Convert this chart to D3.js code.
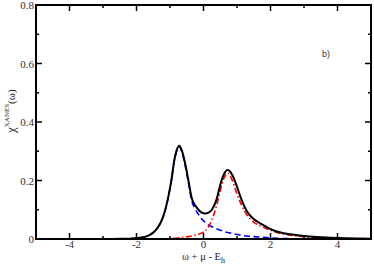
<!DOCTYPE html>
<html><head><meta charset="utf-8">
<script src="https://cdn.jsdelivr.net/npm/d3@7/dist/d3.min.js"></script>
<style>body{margin:0;background:#fff}svg{display:block}
text{font-family:"Liberation Serif","Times New Roman",serif}
text.sans{font-family:"Liberation Sans",Arial,sans-serif}</style>
</head><body>
<svg id="c" width="374" height="267"></svg>
<script>
const omega = [-5,-4,-3,-2.5,-2.2,-2,-1.8,-1.6,-1.5,-1.4,-1.27,-1.14,-1.04,-0.96,-0.87,-0.8,-0.72,-0.65,-0.57,-0.45,-0.35,-0.25,-0.15,-0.05,0.05,0.15,0.25,0.4,0.5,0.6,0.72,0.86,0.98,1.12,1.3,1.5,1.75,2.0,2.3,2.6,3.0,3.5,4.0,4.5,5.0];
const total = [0,0,0,0.0005,0.001,0.003,0.006,0.014,0.022,0.034,0.058,0.1,0.15,0.2,0.27,0.304,0.319,0.304,0.27,0.2,0.139,0.115,0.1,0.09,0.087,0.09,0.1,0.139,0.185,0.219,0.236,0.219,0.185,0.139,0.094,0.068,0.05,0.034,0.022,0.016,0.01,0.006,0.003,0.0015,0.001];
const blue  = [0,0,0,0.0005,0.001,0.003,0.006,0.014,0.022,0.034,0.058,0.099,0.149,0.198,0.268,0.301,0.315,0.299,0.264,0.192,0.13,0.103,0.084,0.068,0.057,0.048,0.042,0.034,0.03,0.026,0.022,0.019,0.016,0.013,0.01,0.008,0.006,0.004,0.002,0.001,0.0005,0,0,0,0];
const red   = [0,0,0,0,0,0,0,0,0,0,0,0.001,0.001,0.002,0.002,0.003,0.004,0.005,0.006,0.008,0.01,0.013,0.016,0.021,0.028,0.042,0.066,0.118,0.165,0.205,0.225,0.2,0.16,0.12,0.082,0.058,0.042,0.03,0.019,0.013,0.008,0.005,0.003,0.0015,0.001];
const xMajor = [-4,-2,0,2,4];
const xMinor = [-3,-1,1,3];
const yMajor = [0,0.2,0.4,0.6,0.8];
const yMinor = [0.1,0.3,0.5,0.7];

const svg = d3.select("#c");
const L=36, R=371, T=5, B=239;
const x = d3.scaleLinear().domain([-5,5]).range([L,R]);
const y = d3.scaleLinear().domain([0,0.8]).range([B,T]);

const g = svg.append("g");
g.append("defs").append("clipPath").attr("id","clip").append("rect")
  .attr("x",L).attr("y",T).attr("width",R-L).attr("height",B-T);
const plot = g.append("g").attr("clip-path","url(#clip)");
const line = arr => d3.line().x((d,i)=>x(omega[i])).y(d=>y(d)).curve(d3.curveMonotoneX)(arr);

plot.append("path").attr("d",line(blue)).attr("fill","none").attr("stroke","#0000ff")
  .attr("stroke-width",1.6).attr("stroke-dasharray","6,3.5");
plot.append("path").attr("d",line(red)).attr("fill","none").attr("stroke","#ff0000")
  .attr("stroke-width",1.6).attr("stroke-dasharray","6,2.5,1.5,2.5");
plot.append("path").attr("d",line(total)).attr("fill","none").attr("stroke","#000")
  .attr("stroke-width",2);

// ticks (inward, all four sides)
const tk = g.append("g").attr("stroke","#000").attr("stroke-width",1.5);
xMajor.forEach(v=>{
  tk.append("line").attr("x1",x(v)).attr("x2",x(v)).attr("y1",B).attr("y2",B-6);
  tk.append("line").attr("x1",x(v)).attr("x2",x(v)).attr("y1",T).attr("y2",T+6);
});
xMinor.forEach(v=>{
  tk.append("line").attr("x1",x(v)).attr("x2",x(v)).attr("y1",B).attr("y2",B-3);
  tk.append("line").attr("x1",x(v)).attr("x2",x(v)).attr("y1",T).attr("y2",T+3);
});
yMajor.forEach(v=>{
  tk.append("line").attr("x1",L).attr("x2",L+6).attr("y1",y(v)).attr("y2",y(v));
  tk.append("line").attr("x1",R).attr("x2",R-6).attr("y1",y(v)).attr("y2",y(v));
});
yMinor.forEach(v=>{
  tk.append("line").attr("x1",L).attr("x2",L+3).attr("y1",y(v)).attr("y2",y(v));
  tk.append("line").attr("x1",R).attr("x2",R-3).attr("y1",y(v)).attr("y2",y(v));
});
g.append("rect").attr("x",L).attr("y",T).attr("width",R-L).attr("height",B-T)
  .attr("fill","none").attr("stroke","#000").attr("stroke-width",2);

xMajor.forEach(v=>{
  g.append("text").attr("x",x(v)).attr("y",B+9).attr("text-anchor","middle")
    .attr("font-size",11).attr("fill","#333").text(String(v));
});
yMajor.forEach(v=>{
  g.append("text").attr("x",L-2).attr("y",y(v)+4).attr("text-anchor","end")
    .attr("font-size",11).attr("fill","#333").text(v===0?"0":d3.format(".1f")(v));
});
// x label
const xl = g.append("text").attr("x",x(0)).attr("y",260).attr("text-anchor","middle")
  .attr("font-size",10.5).attr("fill","#222");
xl.append("tspan").text("ω + μ - E");
xl.append("tspan").attr("font-size",8).attr("dy",2.5).text("h");
// y label
const yl = g.append("text").attr("transform","translate(15,133) rotate(-90)")
  .attr("font-size",11).attr("fill","#222");
yl.append("tspan").attr("font-size",13).text("χ");
yl.append("tspan").attr("font-size",7).attr("dy",-6).text("XANES");
yl.append("tspan").attr("dy",6).text("(ω)");
// panel label
g.append("text").attr("class","sans").attr("x",322).attr("y",57)
  .attr("font-size",9).attr("fill","#333").text("b)");
</script>
</body></html>
